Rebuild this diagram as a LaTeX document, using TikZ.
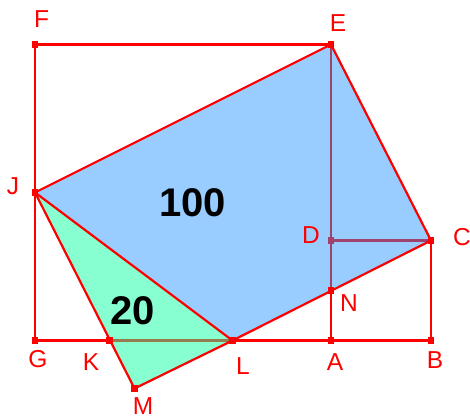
\documentclass[tikz,border=0pt]{standalone}
\usepackage{fontspec}
\setmainfont{Liberation Sans}
\definecolor{gred}{RGB}{255,0,0}
\definecolor{gblue}{RGB}{153,204,255}
\definecolor{ggreen}{RGB}{136,255,208}
\definecolor{gpurple}{RGB}{160,66,110}
\definecolor{gbrown}{RGB}{150,125,80}
\begin{document}
\begin{tikzpicture}[x=1pt,y=-1pt,
  seg/.style={draw=gred,line width=2.2pt},
  inseg/.style={draw=gpurple,line width=2.2pt},
  pt/.style={fill=gred,minimum size=6.5pt,inner sep=0pt,rectangle},
  ptin/.style={fill=gpurple,minimum size=6.5pt,inner sep=0pt,rectangle},
  lbl/.style={text=gred,font=\fontsize{24.5}{24.5}\selectfont,inner sep=0pt},
  big/.style={font=\fontsize{40}{40}\selectfont\bfseries,inner sep=0pt}]
\useasboundingbox (0,0) rectangle (470,419);
\coordinate (F) at (35,44.5);
\coordinate (E) at (331,44.5);
\coordinate (J) at (35,192.5);
\coordinate (C) at (431,240.5);
\coordinate (D) at (331,240.5);
\coordinate (N) at (331,290.5);
\coordinate (A) at (331,340.5);
\coordinate (B) at (431,340.5);
\coordinate (G) at (35,340.5);
\coordinate (K) at (109.5,340.5);
\coordinate (L) at (232.5,340.5);
\coordinate (M) at (134.5,388.5);
% fills
\fill[gblue] (J) -- (E) -- (C) -- (L) -- cycle;
\fill[ggreen] (J) -- (L) -- (M) -- cycle;
% interior lines
\draw[inseg] (E) -- (D) -- (N);
\draw[inseg] (D) -- (C);
\draw[draw=gbrown,line width=2.2pt] (K) -- (L);
% boundary lines
\draw[seg] (F) -- (E);
\draw[seg] (F) -- (G) -- (K);
\draw[seg] (L) -- (B) -- (C);
\draw[seg] (N) -- (A);
\draw[seg] (J) -- (E) -- (C) -- (L) -- (J);
\draw[seg] (J) -- (M) -- (L);
% points
\foreach \p in {F,E,J,C,N,A,B,G,K,L,M} \node[pt] at (\p) {};
\node[ptin] at (D) {};
% labels
\node[lbl] (lF) at (41.5,19.5) {F};
\node[lbl] (lE) at (338,23) {E};
\node[lbl] (lJ) at (13,186) {J};
\node[lbl] (lD) at (311,235) {D};
\node[lbl] (lC) at (462,237) {C};
\node[lbl] (lN) at (349,303) {N};
\node[lbl] (lA) at (335,362) {A};
\node[lbl] (lB) at (435,360) {B};
\node[lbl] (lG) at (38,359) {G};
\node[lbl] (lK) at (91,362) {K};
\node[lbl] (lL) at (243,366) {L};
\node[lbl] (lM) at (143,406.5) {M};
\node[big] (n100) at (192.5,203) {100};
\node[big] (n20) at (133,311) {20};
\end{tikzpicture}
\end{document}
